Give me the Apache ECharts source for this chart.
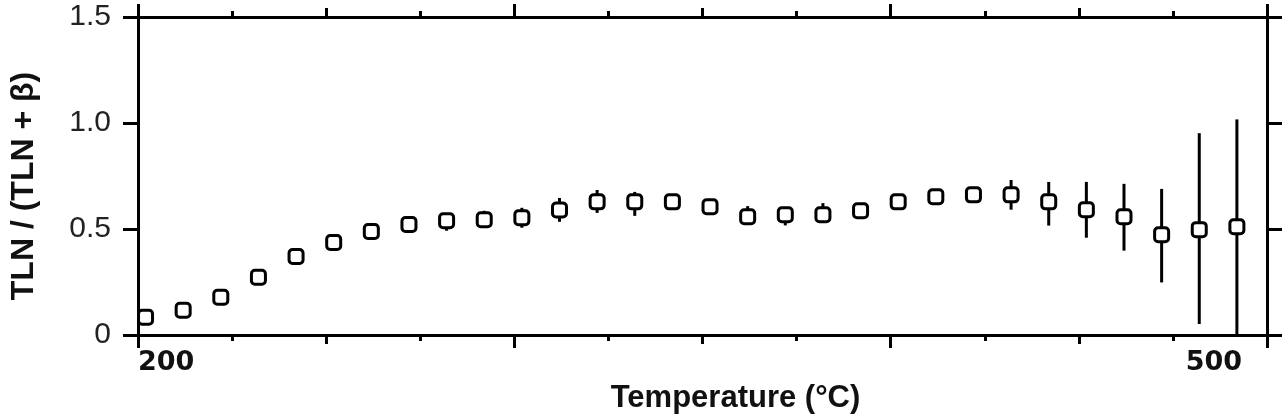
<!DOCTYPE html>
<html><head><meta charset="utf-8">
<script src="https://cdn.jsdelivr.net/npm/echarts@6/dist/echarts.min.js"></script>
<style>html,body{margin:0;padding:0;background:#fff}#c{width:1286px;height:419px}</style>
</head><body><div id="c"></div>
<script>
const temperatures = [202,212,222,232,242,252,262,272,282,292,302,312,322,332,342,352,362,372,382,392,402,412,422,432,442,452,462,472,482,492];
const ratio = [0.084,0.117,0.178,0.272,0.370,0.436,0.488,0.521,0.539,0.544,0.553,0.590,0.628,0.628,0.628,0.605,0.558,0.567,0.567,0.586,0.628,0.652,0.661,0.661,0.628,0.591,0.558,0.473,0.497,0.511];
const errLower = [0.060,0.090,0.150,0.250,0.350,0.416,0.468,0.501,0.492,0.524,0.506,0.534,0.576,0.562,0.598,0.575,0.538,0.517,0.547,0.556,0.598,0.622,0.631,0.591,0.516,0.459,0.398,0.248,0.052,0.000];
const errUpper = [0.108,0.144,0.206,0.292,0.390,0.456,0.508,0.556,0.559,0.586,0.600,0.646,0.684,0.675,0.658,0.635,0.608,0.587,0.622,0.616,0.658,0.682,0.691,0.731,0.722,0.722,0.713,0.689,0.952,1.017];
const xLabelsShown = [200, 500];
const xTitle = 'Temperature (\u00B0C)';
const yTitle = 'TLN / (TLN + \u03B2)';

const black = '#000';
const lw = 3;
function xAx(pos, interval, tickLen, withMinor, withLabels) {
  return {
    type: 'value', position: pos, min: 200, max: 500, interval: interval,
    axisLine: { show: true, onZero: false, lineStyle: { color: black, width: lw } },
    axisTick: { show: true, length: tickLen, lineStyle: { color: black, width: lw } },
    minorTick: { show: withMinor, splitNumber: 4, length: 6, lineStyle: { color: black, width: lw } },
    splitLine: { show: false }, minorSplitLine: { show: false },
    axisLabel: withLabels ? {
      show: true, margin: 14, color: '#111', fontFamily: 'DejaVu Sans', fontWeight: 'bold', fontSize: 27,
      alignMinLabel: 'left', alignMaxLabel: 'right',
      formatter: function (v) {
        if (xLabelsShown.indexOf(v) < 0) return '';
        return v === 500 ? '{r|' + v + '}' : '{l|' + v + '}';
      },
      rich: {
        l: { fontFamily: 'DejaVu Sans', fontWeight: 'bold', fontSize: 27, color: '#111', padding: [0, 0, 0, 0] },
        r: { fontFamily: 'DejaVu Sans', fontWeight: 'bold', fontSize: 27, color: '#111', padding: [0, 25, 0, 0] }
      }
    } : { show: false },
    name: withLabels ? xTitle : '', nameLocation: 'middle', nameGap: 48,
    nameTextStyle: { fontFamily: 'Liberation Sans', fontWeight: 'bold', fontSize: 31, color: '#111', padding: [0, 0, 0, 66] }
  };
}
function yAx(pos, withLabels) {
  return {
    type: 'value', position: pos, min: 0, max: 1.5, interval: 0.5,
    axisLine: { show: true, onZero: false, lineStyle: { color: black, width: lw } },
    axisTick: { show: true, length: 15, lineStyle: { color: black, width: lw } },
    splitLine: { show: false },
    axisLabel: withLabels ? {
      show: true, margin: 27, color: '#222', fontFamily: 'Liberation Sans', fontSize: 30,
      formatter: function (v) { return v === 0 ? '0' : v.toFixed(1); }
    } : { show: false },
    name: withLabels ? yTitle : '', nameLocation: 'middle', nameGap: 98,
    nameTextStyle: { fontFamily: 'Liberation Sans', fontWeight: 'bold', fontSize: 32, color: '#111', padding: [0, 20, 0, 0] }
  };
}

const chart = echarts.init(document.getElementById('c'), null, { renderer: 'canvas' });
chart.setOption({
  animation: false,
  backgroundColor: '#fff',
  grid: { left: 134, right: 19, top: 17, bottom: 82, containLabel: false },
  xAxis: [xAx('bottom', 100, 13, true, true), xAx('bottom', 50, 9, false, false),
          xAx('top', 100, 13, true, false), xAx('top', 50, 9, false, false)],
  yAxis: [yAx('left', true), yAx('right', false)],
  series: [
    {
      type: 'custom', xAxisIndex: 0, yAxisIndex: 0, z: 2,
      data: temperatures.map((t, i) => [t, errLower[i], errUpper[i]]),
      encode: { x: 0, y: [1, 2] },
      renderItem: function (params, api) {
        const a = api.coord([api.value(0), api.value(1)]);
        const b = api.coord([api.value(0), api.value(2)]);
        return { type: 'line', shape: { x1: a[0], y1: a[1], x2: b[0], y2: b[1] },
                 style: { stroke: black, lineWidth: lw } };
      }
    },
    {
      type: 'scatter', xAxisIndex: 0, yAxisIndex: 0, z: 3,
      symbol: 'roundRect', symbolSize: 14,
      itemStyle: { color: '#fff', borderColor: black, borderWidth: lw, opacity: 1 },
      data: temperatures.map((t, i) => [t, ratio[i]])
    }
  ]
});
</script></body></html>
